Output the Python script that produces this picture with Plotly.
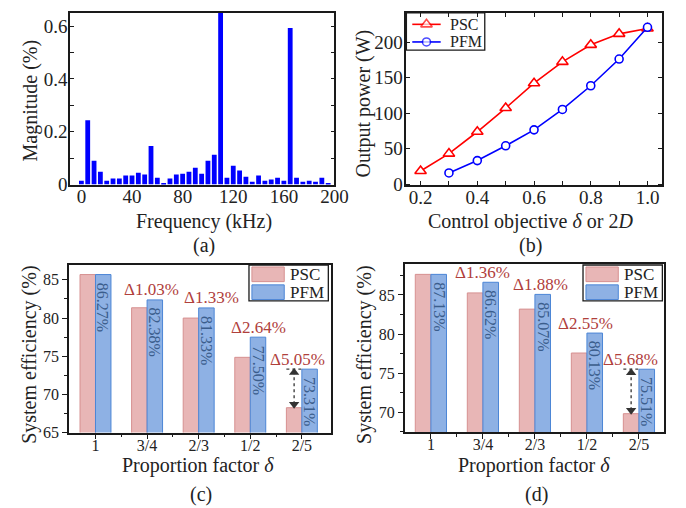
import plotly.graph_objects as go

# ---------------- data ----------------
FREQ_KHZ = [0, 5, 10, 15, 20, 25, 30, 35, 40, 45, 50, 55, 60, 65, 70, 75, 80, 85, 90, 95,
            100, 105, 110, 115, 120, 125, 130, 135, 140, 145, 150, 155, 160, 165, 170, 175,
            180, 185, 190, 195]
MAG_PCT = [0.015, 0.244, 0.090, 0.049, 0.015, 0.023, 0.023, 0.034, 0.034, 0.045,
           0.038, 0.146, 0.026, 0.004, 0.023, 0.038, 0.041, 0.049, 0.064, 0.041,
           0.090, 0.113, 0.800, 0.026, 0.071, 0.053, 0.030, 0.011, 0.034, 0.015,
           0.019, 0.026, 0.015, 0.593, 0.026, 0.011, 0.015, 0.011, 0.026, 0.004]

CTRL_PSC = [0.2, 0.3, 0.4, 0.5, 0.6, 0.7, 0.8, 0.9, 1.0]
POWER_PSC = [18.4, 42.8, 73.6, 107.0, 142.0, 172.0, 196.0, 211.5, 219.0]
CTRL_PFM = [0.3, 0.4, 0.5, 0.6, 0.7, 0.8, 0.9, 1.0]
POWER_PFM = [15.6, 33.0, 53.8, 76.3, 105.0, 138.4, 176.0, 220.7]

CATS = ["1", "3/4", "2/3", "1/2", "2/5"]
EFF_PSC_C = [85.70, 81.35, 80.00, 74.86, 68.26]
EFF_PFM_C = [85.70, 82.38, 81.33, 77.50, 73.31]
LABEL_PFM_C = ["86.27%", "82.38%", "81.33%", "77.50%", "73.31%"]
EFF_PSC_D = [87.63, 85.26, 83.19, 77.58, 69.83]
EFF_PFM_D = [87.63, 86.62, 85.07, 80.13, 75.51]
LABEL_PFM_D = ["87.13%", "86.62%", "85.07%", "80.13%", "75.51%"]

# ---------------- style ----------------
W, H = 686, 508
FONT = "Liberation Serif"
TXT = "#222222"
LINE = "#1a1a1a"
PSC_FILL, PSC_EDGE = "rgb(232,182,182)", "rgb(214,144,144)"
PFM_FILL, PFM_EDGE = "rgb(142,177,228)", "rgb(76,134,214)"
DELTA_COL = "#b0403c"
INBAR_COL = "#3b5d8c"
BW = 0.3
DELTA_DX_C = [0.09, 0.25, 0.15, -0.08]
DELTA_DX_D = [0.0, 0.10, -0.02, -0.16]


def px(x):
    return x / W


def py(y):
    return 1 - y / H


def tf(size):
    return dict(family=FONT, size=size, color=TXT)


fig = go.Figure()

# (a) spectrum
fig.add_trace(go.Bar(x=FREQ_KHZ, y=MAG_PCT, width=3.8, marker=dict(color="#0000ff", line=dict(width=0)),
                     xaxis="x", yaxis="y", showlegend=False))

# (b) output power
SERIES_B = [("PSC", CTRL_PSC, POWER_PSC, "#ff0000", "triangle-up", 10),
            ("PFM", CTRL_PFM, POWER_PFM, "#0000ff", "circle", 8)]
for name, xs, ys, col, sym, sz in SERIES_B:
    fig.add_trace(go.Scatter(x=xs, y=ys, mode="lines+markers", name=name,
                             line=dict(color=col, width=1.6),
                             marker=dict(symbol=sym, size=sz, color="white",
                                         line=dict(color=col, width=1.6)),
                             xaxis="x2", yaxis="y2", showlegend=False))

annotations = []
shapes = []

# legend for (b): samples drawn on a pixel overlay axis
LEG_B_LEFT, LEG_B_TOP = 406.7, 5
shapes.append(dict(type="rect", xref="paper", yref="paper", x0=px(LEG_B_LEFT), x1=px(LEG_B_LEFT + 80),
                   y0=py(LEG_B_TOP + 38), y1=py(LEG_B_TOP), line=dict(color=LINE, width=1.3),
                   fillcolor="white", layer="below"))
for k, (name, xs, ys, col, sym, sz) in enumerate(SERIES_B):
    yy = LEG_B_TOP + 11.7 + k * 18
    x0, x1 = LEG_B_LEFT + 6, LEG_B_LEFT + 35
    fig.add_trace(go.Scatter(x=[x0, (x0 + x1) / 2, x1], y=[yy, yy, yy], mode="lines+markers",
                             line=dict(color=col, width=1.6),
                             marker=dict(symbol=sym, size=[0, sz, 0], color="white",
                                         line=dict(color=col, width=1.6)),
                             xaxis="x5", yaxis="y5", showlegend=False, hoverinfo="skip"))
    annotations.append(dict(x=px(LEG_B_LEFT + 42), y=py(yy), xref="paper", yref="paper", text=name,
                            showarrow=False, xanchor="left", yanchor="middle", font=tf(16)))


def bar_panel(xa, ya, psc, pfm, labels, dxs, yrange, dom_h_px):
    idx = list(range(len(CATS)))
    fig.add_trace(go.Bar(x=[i - BW / 2 for i in idx], y=psc, width=BW, base=0,
                         marker=dict(color=PSC_FILL, line=dict(color=PSC_EDGE, width=1)),
                         xaxis=xa, yaxis=ya, showlegend=False))
    fig.add_trace(go.Bar(x=[i + BW / 2 for i in idx], y=pfm, width=BW, base=0,
                         marker=dict(color=PFM_FILL, line=dict(color=PFM_EDGE, width=1)),
                         xaxis=xa, yaxis=ya, showlegend=False))
    for i in idx:
        annotations.append(dict(x=i + BW / 2, y=pfm[i], xref=xa, yref=ya, text=labels[i],
                                textangle=90, showarrow=False, yanchor="top", xanchor="center",
                                yshift=-6, font=dict(family=FONT, size=16, color=INBAR_COL)))
    for k, i in enumerate(idx[1:]):
        d = pfm[i] - psc[i]
        annotations.append(dict(x=i + dxs[k], y=pfm[i], xref=xa, yref=ya,
                                text="\u0394%.2f%%" % d, showarrow=False,
                                yanchor="middle", xanchor="center", yshift=10,
                                font=dict(family=FONT, size=17, color=DELTA_COL)))
    # arrow on last group
    last = idx[-1]
    ax_x = last - BW / 2
    ppu = dom_h_px / (yrange[1] - yrange[0])
    off = 3.5 / ppu
    fig.add_trace(go.Scatter(x=[ax_x, ax_x], y=[psc[last] + off, pfm[last] - off], mode="lines",
                             line=dict(color="#404040", width=1.4, dash="dot"),
                             xaxis=xa, yaxis=ya, showlegend=False, hoverinfo="skip"))
    fig.add_trace(go.Scatter(x=[last - BW, last], y=[pfm[last], pfm[last]], mode="lines",
                             line=dict(color="#404040", width=1.2, dash="dot"),
                             xaxis=xa, yaxis=ya, showlegend=False, hoverinfo="skip"))
    fig.add_trace(go.Scatter(x=[ax_x, ax_x], y=[pfm[last] - off, psc[last] + off], mode="markers",
                             marker=dict(symbol=["triangle-up", "triangle-down"], size=9, color="#333333"),
                             xaxis=xa, yaxis=ya, showlegend=False, hoverinfo="skip"))


YR_C = [65, 87]
YR_D = [67.45, 88.95]
bar_panel("x3", "y3", EFF_PSC_C, EFF_PFM_C, LABEL_PFM_C, DELTA_DX_C, YR_C, 434 - 262.3)
bar_panel("x4", "y4", EFF_PSC_D, EFF_PFM_D, LABEL_PFM_D, DELTA_DX_D, YR_D, 433.7 - 261.7)


def custom_legend(left, top):
    items = [("PSC", PSC_FILL, PSC_EDGE), ("PFM", PFM_FILL, PFM_EDGE)]
    shapes.append(dict(type="rect", xref="paper", yref="paper", x0=px(left), x1=px(left + 81),
                       y0=py(top + 36.6), y1=py(top), line=dict(color=LINE, width=1.3),
                       fillcolor="white", layer="above"))
    for k, (name, fc, ec) in enumerate(items):
        y0 = top + 2 + k * 18.3
        shapes.append(dict(type="rect", xref="paper", yref="paper", x0=px(left + 3), x1=px(left + 36),
                           y0=py(y0 + 15), y1=py(y0), fillcolor=fc, line=dict(color=ec, width=1),
                           layer="above"))
        annotations.append(dict(x=px(left + 40), y=py(y0 + 7.6), xref="paper", yref="paper",
                                text=name, showarrow=False, xanchor="left", yanchor="middle",
                                font=tf(17)))


custom_legend(246, 262.7)
custom_legend(587, 262.7)


def label(x, y, text, size=20, angle=0):
    annotations.append(dict(x=px(x), y=py(y), xref="paper", yref="paper", text=text,
                            showarrow=False, textangle=angle, xanchor="center", yanchor="middle",
                            font=tf(size)))


label(200, 218, "Frequency (kHz)")
label(23, 95, "Magnitude (%)", angle=-90)
label(533, 218, "Control objective <i>\u03b4</i> or 2<i>D</i>")
label(363, 98, "Output power (W)", angle=-90)
label(194, 468, "Proportion factor <i>\u03b4</i>")
label(22, 355, "System efficiency (%)", angle=-90)
label(537, 468, "Proportion factor <i>\u03b4</i>")
label(364, 355, "System efficiency (%)", angle=-90)
label(200, 243, "(a)")
label(533, 243, "(b)")
label(197, 497, "(c)")
label(539, 497, "(d)")

common = dict(showline=True, linecolor=LINE, linewidth=1.5, mirror=True, showgrid=False,
              zeroline=False, tickcolor=LINE, tickwidth=1.2)
allt = {**common, "mirror": "allticks"}

fig.update_layout(
    width=W, height=H, margin=dict(l=0, r=0, t=0, b=0),
    paper_bgcolor="white", plot_bgcolor="rgba(0,0,0,0)", barmode="overlay",
    font=dict(family=FONT, color=TXT),
    annotations=annotations, shapes=shapes,
    xaxis=dict(domain=[px(63.3), px(333.3)], range=[-9, 200], tickvals=[0, 40, 80, 120, 160, 200],
               ticks="", tickfont=tf(19), ticklabelstandoff=-6, anchor="y", **common),
    yaxis=dict(domain=[py(180.5), py(5)], range=[0, 0.65], dtick=0.2, tick0=0, ticks="inside",
               ticklen=4, tickfont=tf(19), ticklabelstandoff=-3, anchor="x",
               minor=dict(dtick=0.1, tick0=0, ticks="inside", ticklen=4, tickcolor=LINE), **allt),
    xaxis2=dict(domain=[px(406.7), px(667.3)], range=[0.15, 1.05], dtick=0.2, tick0=0.2,
                tickformat=".1f", ticks="inside", ticklen=4, tickfont=tf(19), ticklabelstandoff=-6,
                anchor="y2",
                minor=dict(dtick=0.1, tick0=0.2, ticks="inside", ticklen=4, tickcolor=LINE), **allt),
    yaxis2=dict(domain=[py(181), py(5)], range=[-1.5, 241], dtick=50, tick0=0, ticks="inside",
                ticklen=4, tickfont=tf(19), ticklabelstandoff=-2, anchor="x2", **allt),
    xaxis3=dict(domain=[px(62.3), px(330)], range=[-0.513, 4.57], tickvals=list(range(len(CATS))),
                ticktext=CATS, ticks="outside", ticklen=5, tickfont=tf(16), ticklabelstandoff=-8,
                anchor="y3",
                minor=dict(tickvals=[0.5, 1.5, 2.5, 3.5], ticks="outside", ticklen=3, tickcolor=LINE),
                **common),
    yaxis3=dict(domain=[py(434), py(262.3)], range=YR_C, dtick=5, tick0=65, ticks="outside",
                ticklen=5, tickfont=tf(16), anchor="x3",
                minor=dict(dtick=2.5, tick0=65, ticks="outside", ticklen=3, tickcolor=LINE),
                **common),
    xaxis4=dict(domain=[px(405), px(669.3)], range=[-0.503, 4.475], tickvals=list(range(len(CATS))),
                ticktext=CATS, ticks="outside", ticklen=5, tickfont=tf(16), ticklabelstandoff=-8,
                anchor="y4",
                minor=dict(tickvals=[0.5, 1.5, 2.5, 3.5], ticks="outside", ticklen=3, tickcolor=LINE),
                **common),
    yaxis4=dict(domain=[py(433.7), py(261.7)], range=YR_D, dtick=5, tick0=70, ticks="outside",
                ticklen=5, tickfont=tf(16), anchor="x4",
                minor=dict(dtick=2.5, tick0=67.5, ticks="outside", ticklen=3, tickcolor=LINE),
                **common),
    xaxis5=dict(domain=[0, 1], range=[0, W], visible=False, fixedrange=True, anchor="y5"),
    yaxis5=dict(domain=[0, 1], range=[H, 0], visible=False, fixedrange=True, anchor="x5"),
)

fig.write_html("out.html")
